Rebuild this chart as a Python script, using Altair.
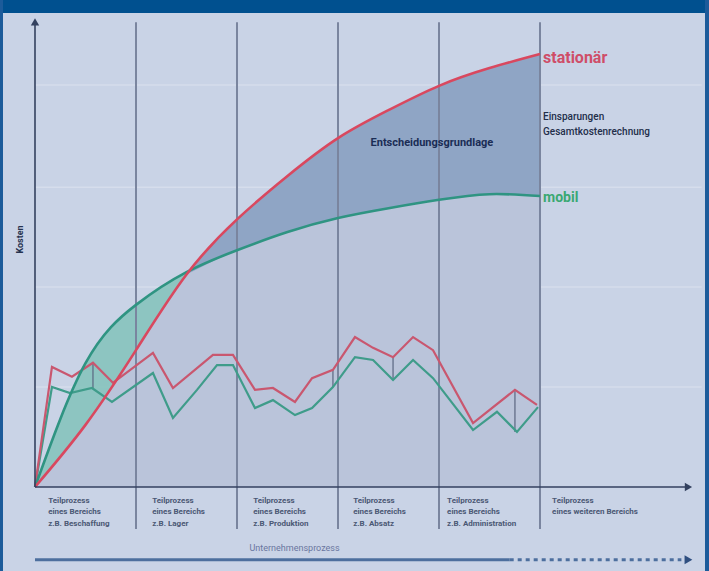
import altair as alt
import pandas as pd

# ---------------- data (process axis: 1 unit = one Teilprozess; cost axis: arbitrary units)
curve_x = [0, 0.5, 1, 1.5, 2, 2.5, 3, 3.5, 4, 4.5, 5.0]
stationaer = [0, 13.3, 29.3, 45.5, 57.3, 66.6, 74.7, 80.7, 85.9, 89.7, 92.7]
mobil = [0, 26.5, 39.0, 46.0, 50.7, 54.6, 57.6, 59.7, 61.5, 62.7, 62.3]

zig_red_x = [0, 0.168, 0.366, 0.574, 0.772, 1.168, 1.366, 1.762, 1.960, 2.178, 2.356,
             2.574, 2.743, 2.950, 3.168, 3.347, 3.545, 3.743, 3.941, 4.337, 4.752, 4.970]
zig_red_y = [0, 25.7, 23.6, 26.6, 22.3, 28.7, 21.2, 28.3, 28.3, 20.8, 21.2,
             18.2, 23.3, 25.1, 32.1, 29.8, 27.8, 32.1, 29.3, 13.7, 20.8, 17.6]
zig_green_x = [0, 0.168, 0.347, 0.564, 0.762, 1.168, 1.366, 1.604, 1.802, 1.960, 2.178, 2.356,
               2.574, 2.743, 2.950, 3.168, 3.347, 3.545, 3.743, 3.941, 4.337, 4.574, 4.772, 4.980]
zig_green_y = [0, 21.4, 20.1, 21.2, 18.2, 24.4, 14.8, 20.8, 26.1, 26.1, 16.9, 18.6,
               15.4, 16.9, 21.4, 27.8, 27.2, 22.9, 27.2, 23.3, 12.2, 16.1, 11.8, 17.1]

connector_x = [0.574, 2.950, 3.545, 4.752]
connector_top = [26.6, 25.1, 27.8, 20.8]
connector_bot = [21.2, 21.4, 22.9, 11.8]

dividers = [1, 2, 3, 4, 5]
grid_y = [21.4, 42.8, 64.2, 86.1]

process_labels = [
    ["Teilprozess", "eines Bereichs", "z.B. Beschaffung"],
    ["Teilprozess", "eines Bereichs", "z.B. Lager"],
    ["Teilprozess", "eines Bereichs", "z.B. Produktion"],
    ["Teilprozess", "eines Bereichs", "z.B. Absatz"],
    ["Teilprozess", "eines Bereichs", "z.B. Administration"],
    ["Teilprozess", "eines weiteren Bereichs"],
]
label_x = [0.13, 1.16, 2.16, 3.15, 4.08, 5.12]

FONT = "Roboto"
CURVE = "natural"

# ---------------- scales
XS = alt.Scale(domain=[-0.3465, 6.6733], nice=False, zero=False)
YS = alt.Scale(domain=[-17.99, 104.28], nice=False, zero=False)


def X(f):
    return alt.X(f"{f}:Q", scale=XS, axis=None)


def Y(f):
    return alt.Y(f"{f}:Q", scale=YS, axis=None)


curves = pd.DataFrame({"x": curve_x, "s": stationaer, "m": mobil})
curves["lo"] = curves[["s", "m"]].min(axis=1)
curves["hi"] = curves[["s", "m"]].max(axis=1)
curves["zero"] = 0.0
teal_part = curves[curves.x <= 1.5]
blue_part = curves[curves.x >= 1.5]

red = pd.DataFrame({"x": zig_red_x, "y": zig_red_y})
green = pd.DataFrame({"x": zig_green_x, "y": zig_green_y})
conn = pd.DataFrame({"x": connector_x, "t": connector_top, "b": connector_bot})
div = pd.DataFrame({"x": dividers, "b": [-9.0] * 5, "t": [99.5] * 5})
grid = pd.DataFrame({"y": grid_y, "x0": [0.0] * 4, "x1": [6.6] * 4})

rows = []
for lx, lines in zip(label_x, process_labels):
    for i, t in enumerate(lines):
        rows.append({"x": lx, "y": -3.0 - 2.45 * i, "t": t})
labels = pd.DataFrame(rows)

# ---------------- layers
top_band = alt.Chart(pd.DataFrame({"a": [0]})).mark_rect(color="#00508f").encode(
    x=alt.value(0), x2=alt.value(709), y=alt.value(0), y2=alt.value(13))
left_border = alt.Chart(pd.DataFrame({"a": [0]})).mark_rect(color="#1c5b9a").encode(
    x=alt.value(0), x2=alt.value(3), y=alt.value(0), y2=alt.value(571))
right_border = alt.Chart(pd.DataFrame({"a": [0]})).mark_rect(color="#1c5b9a").encode(
    x=alt.value(705), x2=alt.value(709), y=alt.value(0), y2=alt.value(571))

grid_l = alt.Chart(grid).mark_rule(color="#d9e0ee", strokeWidth=1.5, opacity=0.8).encode(
    x=X("x0"), x2="x1", y=Y("y"))

under = alt.Chart(curves).mark_area(color="#bac4da", interpolate=CURVE).encode(
    x=X("x"), y=Y("zero"), y2="lo")

div_l = alt.Chart(div).mark_rule(color="#7a859f", strokeWidth=2).encode(
    x=X("x"), y=Y("b"), y2="t")

teal_band = alt.Chart(teal_part).mark_area(color="#86c3bd", opacity=0.9,
                                           interpolate=CURVE).encode(
    x=X("x"), y=Y("lo"), y2="hi")
blue_band = alt.Chart(blue_part).mark_area(color="#8fa5c5", interpolate=CURVE).encode(
    x=X("x"), y=Y("lo"), y2="hi")

conn_l = alt.Chart(conn).mark_rule(color="#5a6680", strokeWidth=1.2).encode(
    x=X("x"), y=Y("b"), y2="t")

red_l = alt.Chart(red).mark_line(color="#c9576f", strokeWidth=2.2).encode(x=X("x"), y=Y("y"))
green_l = alt.Chart(green).mark_line(color="#3f9c8a", strokeWidth=2.2).encode(x=X("x"), y=Y("y"))

stat_l = alt.Chart(curves).mark_line(color="#d9485f", strokeWidth=2.6,
                                     interpolate=CURVE).encode(x=X("x"), y=Y("s"))
mob_l = alt.Chart(curves).mark_line(color="#2f9482", strokeWidth=2.6,
                                    interpolate=CURVE).encode(x=X("x"), y=Y("m"))

axes = pd.DataFrame({"x0": [0.0, 0.0], "x1": [0.0, 6.45], "y0": [0.0, 0.0], "y1": [99.0, 0.0]})
axes_l = alt.Chart(axes).mark_rule(color="#33415f", strokeWidth=1.6).encode(
    x=X("x0"), x2="x1", y=Y("y0"), y2="y1")
arrow_up = alt.Chart(pd.DataFrame({"x": [0.0], "y": [99.6]})).mark_point(
    shape="triangle-up", filled=True, color="#33415f", size=70, opacity=1).encode(x=X("x"), y=Y("y"))
arrow_right = alt.Chart(pd.DataFrame({"x": [6.47], "y": [0.0]})).mark_point(
    shape="triangle-right", filled=True, color="#33415f", size=70, opacity=1).encode(x=X("x"), y=Y("y"))

proc = pd.DataFrame({"x0": [0.0], "x1": [4.7], "y": [-15.6]})
proc_solid = alt.Chart(proc).mark_rule(color="#4d6f9e", strokeWidth=3).encode(
    x=X("x0"), x2="x1", y=Y("y"))
proc_d = pd.DataFrame({"x0": [4.7], "x1": [6.4], "y": [-15.6]})
proc_dash = alt.Chart(proc_d).mark_rule(color="#4d6f9e", strokeWidth=3, strokeDash=[4, 4]).encode(
    x=X("x0"), x2="x1", y=Y("y"))
proc_arrow = alt.Chart(pd.DataFrame({"x": [6.47], "y": [-15.6]})).mark_point(
    shape="triangle-right", filled=True, color="#2f4f80", size=80, opacity=1).encode(x=X("x"), y=Y("y"))

proc_text = alt.Chart(pd.DataFrame({"x": [2.57], "y": [-13.1], "t": ["Unternehmensprozess"]})).mark_text(
    font=FONT, fontSize=9, color="#6a76a0", align="center", baseline="middle").encode(
    x=X("x"), y=Y("y"), text="t:N")

lab_l = alt.Chart(labels).mark_text(font=FONT, fontSize=8, fontWeight="bold", color="#4b5874",
                                    align="left", baseline="middle").encode(
    x=X("x"), y=Y("y"), text="t:N")

kosten = alt.Chart(pd.DataFrame({"x": [-0.15], "y": [53.0], "t": ["Kosten"]})).mark_text(
    font=FONT, fontSize=9, fontWeight="bold", color="#26324f", angle=270,
    align="center", baseline="middle").encode(x=X("x"), y=Y("y"), text="t:N")

stat_t = alt.Chart(pd.DataFrame({"x": [5.03], "y": [91.9], "t": ["stationär"]})).mark_text(
    font=FONT, fontSize=16, fontWeight="bold", color="#cf4d68", align="left",
    baseline="middle").encode(x=X("x"), y=Y("y"), text="t:N")
mob_t = alt.Chart(pd.DataFrame({"x": [5.03], "y": [61.9], "t": ["mobil"]})).mark_text(
    font=FONT, fontSize=14, fontWeight="bold", color="#3aa872", align="left",
    baseline="middle").encode(x=X("x"), y=Y("y"), text="t:N")
ent_t = alt.Chart(pd.DataFrame({"x": [3.93], "y": [73.6], "t": ["Entscheidungsgrundlage"]})).mark_text(
    font=FONT, fontSize=11, fontWeight="bold", color="#1b2d55", align="center",
    baseline="middle").encode(x=X("x"), y=Y("y"), text="t:N")
eins_t = alt.Chart(pd.DataFrame({"x": [5.03, 5.03], "y": [79.2, 76.0],
                                 "t": ["Einsparungen", "Gesamtkostenrechnung"]})).mark_text(
    font=FONT, fontSize=10, fontWeight=500, color="#232e4a", align="left",
    baseline="middle").encode(x=X("x"), y=Y("y"), text="t:N")

chart = alt.layer(
    grid_l, under, teal_band, blue_band, div_l, conn_l, green_l, red_l, mob_l, stat_l,
    axes_l, arrow_up, arrow_right, proc_solid, proc_dash, proc_arrow, proc_text,
    lab_l, kosten, stat_t, mob_t, ent_t, eins_t, top_band, left_border, right_border
).properties(
    width=709, height=571, padding=0, background="#c9d3e6",
    autosize=alt.AutoSizeParams(type="none")
).configure_view(stroke=None)

chart.save("out.html", embed_options={"renderer": "svg", "actions": False})
